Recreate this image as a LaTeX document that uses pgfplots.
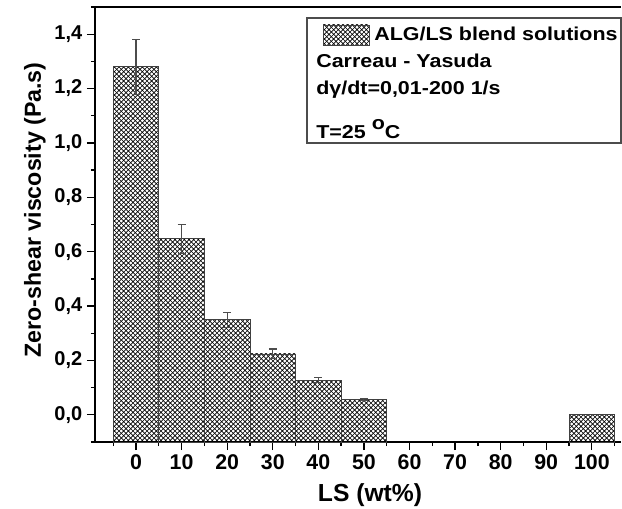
\documentclass[border=0pt]{standalone}
\usepackage{pgfplots}
\pgfplotsset{compat=1.18}
\usepackage{pgfplotstable}
\usepackage{fontspec}
\setmainfont{Liberation Sans}
\newfontfamily\lgfont{Liberation Sans}[FakeStretch=1.15]
\usetikzlibrary{patterns}

\pgfdeclarepatternformonly{mycross}{\pgfqpoint{-1pt}{-1pt}}{\pgfqpoint{4.5pt}{4.5pt}}{\pgfqpoint{3.5pt}{3.5pt}}{%
  \pgfsetlinewidth{0.45pt}%
  \pgfpathmoveto{\pgfqpoint{0pt}{0pt}}\pgfpathlineto{\pgfqpoint{3.5pt}{3.5pt}}%
  \pgfpathmoveto{\pgfqpoint{0pt}{3.5pt}}\pgfpathlineto{\pgfqpoint{3.5pt}{0pt}}%
  \pgfusepath{stroke}}

\pgfplotstableread{
x y err
0 1.280 0.102
10 0.648 0.053
20 0.350 0.028
30 0.224 0.018
40 0.128 0.010
50 0.057 0.004
}\errtable

\begin{document}
\begin{tikzpicture}
\begin{axis}[
  scale only axis,
  width=394.5pt, height=326.25pt,
  xmin=-9, xmax=106.4,
  ymin=-0.1, ymax=1.5,
  axis x line*=bottom,
  axis y line*=left,
  axis line style={line width=1.5pt},
  tick align=outside,
  tick style={line width=1pt, black},
  major tick length=6pt,
  minor tick length=3pt,
  xtick={0,10,...,100},
  minor xtick={-5,5,...,105},
  ytick={0,0.2,...,1.4},
  minor ytick={-0.1,0.1,0.3,0.5,0.7,0.9,1.1,1.3,1.5},
  /pgf/number format/assume math mode=true,
  xticklabel style={font=\fontsize{16}{18}\selectfont\bfseries},
  yticklabel style={font=\fontsize{15}{17}\selectfont\bfseries,
    /pgf/number format/.cd, use comma, fixed, fixed zerofill, precision=1},
  clip=false,
]
% bars (from the bottom of the axis, y = -0.1)
\addplot[draw=black!75, line width=0.6pt, pattern=mycross] coordinates {(-5,-0.1) (-5,1.280) (5,1.280) (5,-0.1)} --cycle;
\addplot[draw=black!75, line width=0.6pt, pattern=mycross] coordinates {(5,-0.1) (5,0.648) (15,0.648) (15,-0.1)} --cycle;
\addplot[draw=black!75, line width=0.6pt, pattern=mycross] coordinates {(15,-0.1) (15,0.350) (25,0.350) (25,-0.1)} --cycle;
\addplot[draw=black!75, line width=0.6pt, pattern=mycross] coordinates {(25,-0.1) (25,0.224) (35,0.224) (35,-0.1)} --cycle;
\addplot[draw=black!75, line width=0.6pt, pattern=mycross] coordinates {(35,-0.1) (35,0.128) (45,0.128) (45,-0.1)} --cycle;
\addplot[draw=black!75, line width=0.6pt, pattern=mycross] coordinates {(45,-0.1) (45,0.057) (55,0.057) (55,-0.1)} --cycle;
\addplot[draw=black!75, line width=0.6pt, pattern=mycross] coordinates {(95,-0.1) (95,0.0) (105,0.0) (105,-0.1)} --cycle;
% error bars
\addplot[draw=none, mark=none, forget plot,
  error bars/.cd, y dir=both, y explicit,
  error bar style={line width=0.8pt, gray!60!black},
  error mark options={line width=0.8pt, gray!60!black, mark size=3pt, rotate=90}]
  table[x=x, y=y, y error=err] {\errtable};
% top frame line
\draw[line width=1.5pt] (rel axis cs:0,1) -- (rel axis cs:1,1);
\end{axis}
\begin{scope}[shift={(current axis.south west)}]
\begin{scope}[shift={(-71.25pt,331.5pt)}, x=0.75pt, y=-0.75pt]
  \draw[black!70, line width=0.8pt] (307,18) rectangle (621,143);
  \draw[black!75, line width=0.6pt, pattern=mycross] (323,25) rectangle (369,45);
  \node[anchor=base west, inner sep=0pt, font=\lgfont\fontsize{14}{16}\selectfont\bfseries] at (374,41) {ALG/LS blend solutions};
  \node[anchor=base west, inner sep=0pt, font=\lgfont\fontsize{14}{16}\selectfont\bfseries] at (316,68) {Carreau - Yasuda};
  \node[anchor=base west, inner sep=0pt, font=\lgfont\fontsize{14}{16}\selectfont\bfseries] at (316,95) {dγ/dt=0,01-200 1/s};
  \node[anchor=base west, inner sep=0pt, font=\lgfont\fontsize{14}{16}\selectfont\bfseries] at (316,138) {T=25 \raisebox{6pt}{o}C};
  \node[anchor=base, inner sep=0pt, font=\fontsize{18.5}{20}\selectfont\bfseries] at (370,501) {LS (wt\%)};
  \node[anchor=base, inner sep=0pt, rotate=90, font=\fontsize{17.4}{19}\selectfont\bfseries] at (41,210) {Zero-shear viscosity (Pa.s)};
  \pgfresetboundingbox
  \path (0,0) rectangle (622,508);
\end{scope}
\end{scope}
\end{tikzpicture}
\end{document}
